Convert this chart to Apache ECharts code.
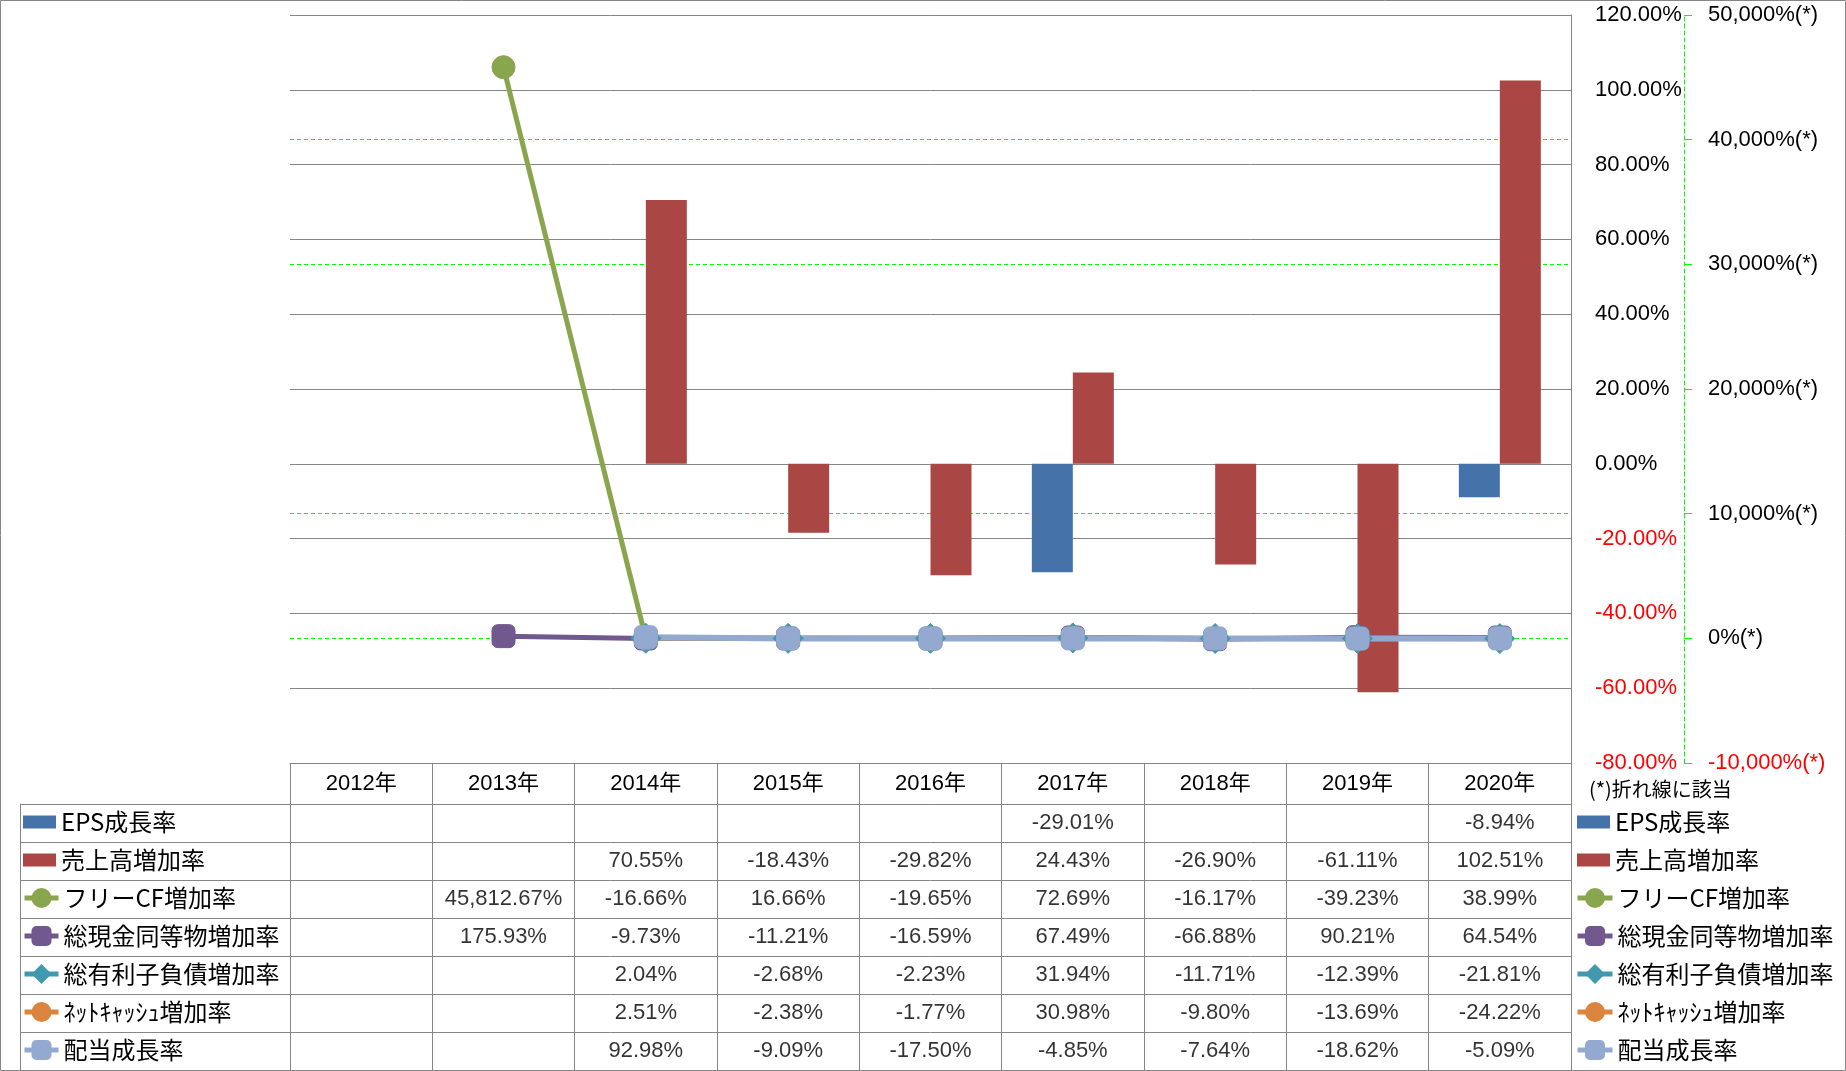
<!DOCTYPE html>
<html>
<head>
<meta charset="utf-8">
<script src="https://cdn.jsdelivr.net/npm/echarts@6/dist/echarts.min.js"></script>
<style>html,body{margin:0;padding:0;background:#fff}#c{width:1846px;height:1071px}</style>
</head>
<body>
<div id="c"></div>
<script>
// ---- data ----
const years = ['2012年', '2013年', '2014年', '2015年', '2016年', '2017年', '2018年', '2019年', '2020年'];
const seriesNames = ['EPS成長率', '売上高増加率', 'フリーCF増加率', '総現金同等物増加率', '総有利子負債増加率', 'ﾈｯﾄｷｬｯｼｭ増加率', '配当成長率'];
const epsGrowth      = [null, null, null, null, null, -29.01, null, null, -8.94];
const salesGrowth    = [null, null, 70.55, -18.43, -29.82, 24.43, -26.90, -61.11, 102.51];
const freeCfGrowth   = [null, 45812.67, -16.66, 16.66, -19.65, 72.69, -16.17, -39.23, 38.99];
const cashGrowth     = [null, 175.93, -9.73, -11.21, -16.59, 67.49, -66.88, 90.21, 64.54];
const debtGrowth     = [null, null, 2.04, -2.68, -2.23, 31.94, -11.71, -12.39, -21.81];
const netCashGrowth  = [null, null, 2.51, -2.38, -1.77, 30.98, -9.80, -13.69, -24.22];
const dividendGrowth = [null, null, 92.98, -9.09, -17.50, -4.85, -7.64, -18.62, -5.09];
const leftAxisTicks  = [-80, -60, -40, -20, 0, 20, 40, 60, 80, 100, 120];
const rightAxisTicks = [-10000, 0, 10000, 20000, 30000, 40000, 50000];
const noteText = '(*)折れ線に該当';

// ---- styling ----
const GRAY = '#868686';
const LATIN = "'Liberation Sans','Noto Sans CJK JP',sans-serif";
const CJK = "'Noto Sans CJK JP','Liberation Sans',sans-serif";
const colors = ['#4672AA', '#AA4643', '#89A54E', '#71588F', '#4198AF', '#DB843D', '#93A9CF'];
const symbols = [null, null, 'circle', 'roundRect', 'diamond', 'circle', 'roundRect'];
const symbolSizes = [0, 0, 23, 23, 30, 23, 23];
const lineWidths = [0, 0, 5, 5, 5, 5, 6];
const rows = [epsGrowth, salesGrowth, freeCfGrowth, cashGrowth, debtGrowth, netCashGrowth, dividendGrowth];

function fmt(v, d) {
  return v.toLocaleString('en-US', {minimumFractionDigits: d, maximumFractionDigits: d}) + '%';
}

const series = [];
// bars
[0, 1].forEach(function (k) {
  series.push({
    name: seriesNames[k], type: 'bar', xAxisIndex: 0, yAxisIndex: 0,
    data: rows[k], barWidth: 41, barGap: '0%',
    itemStyle: {color: colors[k]}
  });
});
// lines (secondary axis)
[2, 3, 4, 5, 6].forEach(function (k) {
  series.push({
    name: seriesNames[k], type: 'line', xAxisIndex: 0, yAxisIndex: 1,
    data: rows[k], symbol: symbols[k], symbolSize: symbolSizes[k], showSymbol: true,
    lineStyle: {width: lineWidths[k], color: colors[k]},
    itemStyle: {color: colors[k], borderColor: colors[k]}
  });
});
// data table cells
rows.forEach(function (row, r) {
  const d = [];
  row.forEach(function (v, i) { if (v != null) d.push([i, r, v]); });
  series.push({
    name: 'table' + r, type: 'scatter', xAxisIndex: 1, yAxisIndex: 2,
    data: d, symbolSize: 1, itemStyle: {color: 'rgba(0,0,0,0)'},
    label: {
      show: true, position: 'inside', color: '#000', fontSize: 22, fontFamily: LATIN,
      formatter: function (p) { return fmt(p.value[2], 2); }
    }
  });
});

const legendText = {fontSize: 24, lineHeight: 38, fontFamily: CJK, color: '#000'};
function legendBlock(left, top, names, w, h, icon) {
  return {
    left: left, top: top, orient: 'vertical', padding: 0, itemGap: 0,
    itemWidth: w, itemHeight: h, selectedMode: false,
    lineStyle: {width: 5},
    data: names.map(function (n) { return icon ? {name: n, icon: icon} : {name: n}; }),
    textStyle: legendText
  };
}

const option = {
  animation: false,
  backgroundColor: '#fff',
  title: {
    text: noteText, left: 1589, top: 779, padding: 0,
    textStyle: {fontSize: 20, fontWeight: 'normal', fontFamily: CJK, color: '#000'}
  },
  legend: [
    legendBlock(23, 803, seriesNames.slice(0, 2), 33, 13, 'rect'),
    legendBlock(22, 879, seriesNames.slice(2), 34, 25, null),
    legendBlock(1577, 803, seriesNames.slice(0, 2), 33, 13, 'rect'),
    legendBlock(1575, 879, seriesNames.slice(2), 35, 25, null)
  ],
  grid: [
    {left: 290, right: 275, top: 15, bottom: 308, outerBoundsMode: 'none', containLabel: false},
    {left: 290, right: 275, top: 804, bottom: 1, outerBoundsMode: 'none', containLabel: false}
  ],
  xAxis: [
    {
      type: 'category', gridIndex: 0, data: years, position: 'bottom', boundaryGap: true, z: 2,
      axisLine: {show: true, onZero: false, lineStyle: {color: GRAY, width: 1}},
      axisTick: {show: true, length: 41, inside: false, lineStyle: {color: GRAY, width: 1}},
      axisLabel: {show: true, margin: 10, fontSize: 22, fontFamily: LATIN, color: '#000', interval: 0},
      splitLine: {show: false}
    },
    {
      type: 'category', gridIndex: 1, data: years, position: 'top', boundaryGap: true,
      axisLine: {show: true, onZero: false, lineStyle: {color: GRAY, width: 1}},
      axisTick: {show: false}, axisLabel: {show: false},
      splitLine: {show: true, interval: 0, lineStyle: {color: GRAY, width: 1}}
    }
  ],
  yAxis: [
    {
      type: 'value', gridIndex: 0, position: 'right', z: 1, min: leftAxisTicks[0],
      max: leftAxisTicks[leftAxisTicks.length - 1], interval: leftAxisTicks[1] - leftAxisTicks[0],
      axisLine: {show: true, lineStyle: {color: GRAY, width: 1}},
      axisTick: {show: false},
      axisLabel: {
        margin: 24, fontSize: 22, fontFamily: LATIN,
        formatter: function (v) { return fmt(v, 2); },
        color: function (v) { return Number(v) < 0 ? '#FF0000' : '#000'; }
      },
      splitLine: {show: true, lineStyle: {color: GRAY, width: 1}}
    },
    {
      type: 'value', gridIndex: 0, position: 'right', offset: 113, z: 0, min: rightAxisTicks[0],
      max: rightAxisTicks[rightAxisTicks.length - 1], interval: rightAxisTicks[1] - rightAxisTicks[0],
      axisLine: {show: true, lineStyle: {color: '#00FF00', width: 1, type: [4, 3]}},
      axisTick: {show: true, length: 8, lineStyle: {color: '#00FF00', width: 1}},
      axisLabel: {
        margin: 24, fontSize: 22, fontFamily: LATIN,
        formatter: function (v) { return fmt(v, 0) + '(*)'; },
        color: function (v) { return Number(v) < 0 ? '#FF0000' : '#000'; }
      },
      splitLine: {show: true, lineStyle: {color: '#00FF00', width: 1, type: [4, 3]}}
    },
    {
      type: 'category', gridIndex: 1, data: seriesNames, inverse: true, boundaryGap: true, position: 'left',
      axisLine: {show: false},
      axisTick: {show: true, length: 270, inside: false, interval: 0, lineStyle: {color: GRAY, width: 1}},
      axisLabel: {show: false},
      splitLine: {show: true, interval: 0, lineStyle: {color: GRAY, width: 1}}
    },
    {
      type: 'category', gridIndex: 1, data: seriesNames, inverse: true, position: 'left', offset: 270,
      axisLine: {show: true, lineStyle: {color: GRAY, width: 1}},
      axisTick: {show: false}, axisLabel: {show: false}, splitLine: {show: false}
    }
  ],
  graphic: [
    {type: 'rect', silent: true, z: -10, shape: {x: 0.5, y: 0.5, width: 1845, height: 1070},
     style: {fill: null, stroke: GRAY, lineWidth: 1}}
  ],
  series: series
};

const chart = echarts.init(document.getElementById('c'), null, {renderer: 'canvas'});
chart.setOption(option);
</script>
</body>
</html>
